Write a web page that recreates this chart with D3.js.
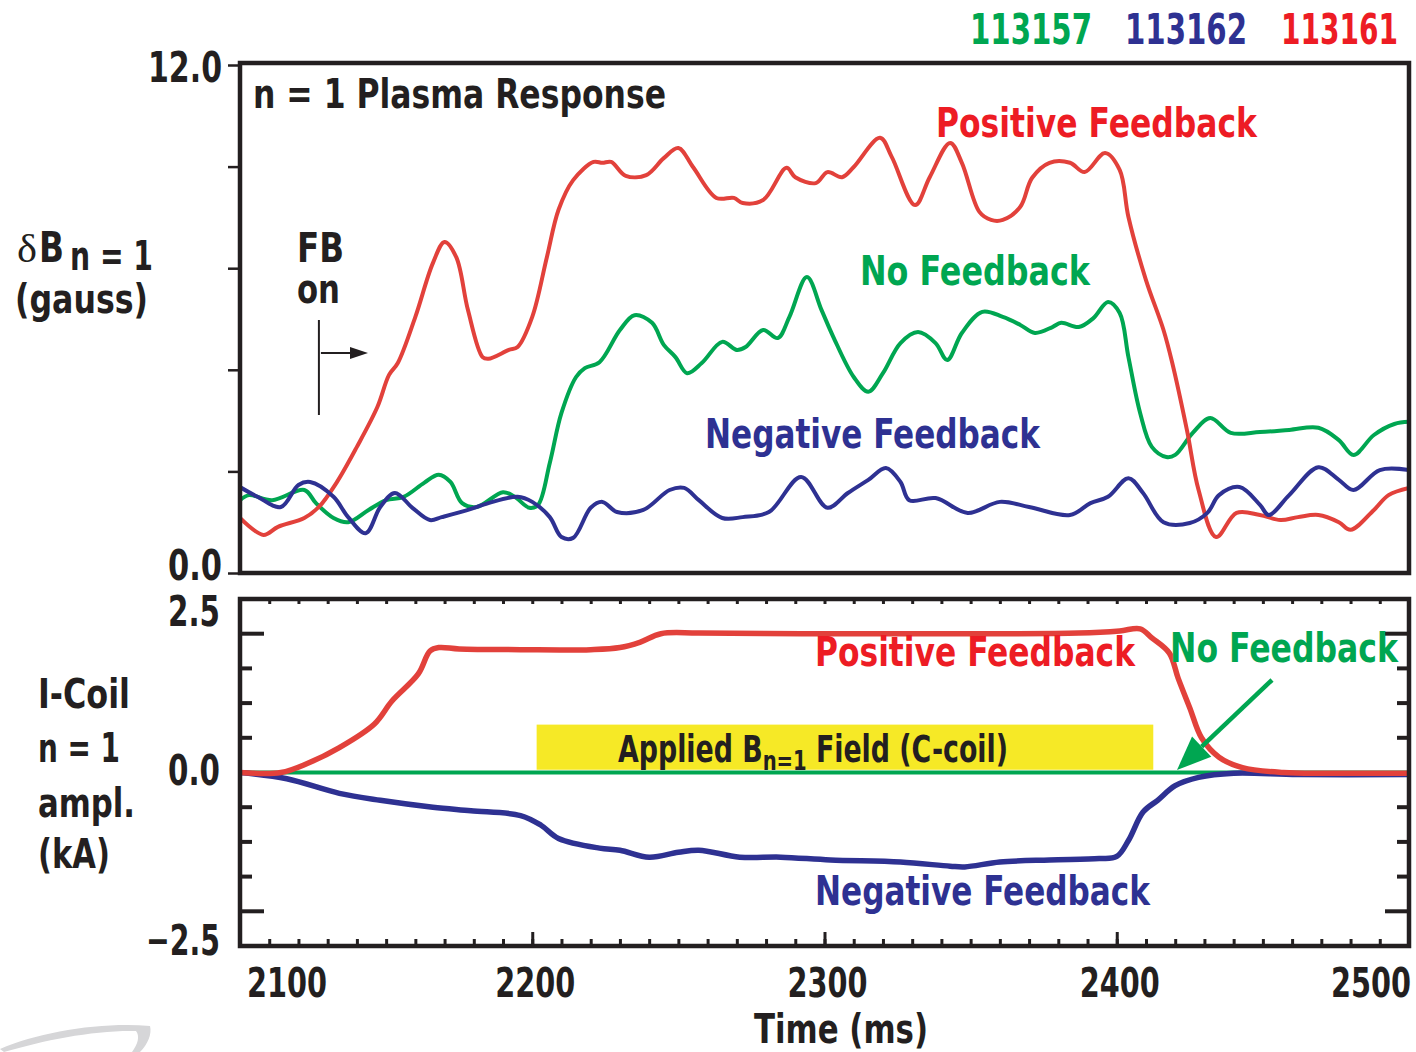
<!DOCTYPE html>
<html>
<head>
<meta charset="utf-8">
<script src="https://cdn.jsdelivr.net/npm/d3@7"></script>
<style>
  body { margin: 0; background: #fff; }
  svg text { font-family: "Liberation Sans Narrow", "Arial Narrow", "DejaVu Sans Condensed", sans-serif; font-weight: bold; }
</style>
</head>
<body>
<div id="chart"></div>
<script>
// size of the page
const width = 1416;
const height = 1052;

// colours used in the figure
const red = "#e2413b", redText = "#ed1c24";
const green = "#00a651";
const blue = "#2e3192";
const ink = "#231f20";

// shot numbers
const shots = ["113157", "113162", "113161"];

// delta B n=1 (gauss) vs time (ms), top panel
const posTop = [[2100,1.30],[2108,0.90],[2113,1.09],[2122,1.30],[2127,1.56],[2133,2.13],[2140,2.98],[2147,3.92],[2151,4.68],[2154,4.96],[2160,6.05],[2166,7.32],[2170,7.82],[2174,7.46],[2178,6.21],[2183,5.10],[2185,5.06],[2192,5.27],[2195,5.34],[2200,6.05],[2205,7.46],[2209,8.58],[2214,9.28],[2221,9.71],[2224,9.69],[2227,9.71],[2232,9.38],[2239,9.40],[2245,9.80],[2250,10.04],[2255,9.59],[2263,8.86],[2269,8.86],[2272,8.74],[2279,8.81],[2287,9.57],[2290,9.35],[2297,9.21],[2301,9.47],[2306,9.35],[2310,9.59],[2319,10.28],[2323,9.83],[2331,8.69],[2336,9.35],[2343,10.16],[2347,9.69],[2353,8.53],[2357,8.34],[2361,8.34],[2367,8.65],[2371,9.33],[2377,9.69],[2384,9.69],[2389,9.47],[2396,9.92],[2401,9.52],[2404,8.41],[2410,6.92],[2416,5.74],[2419,4.96],[2424,3.38],[2428,1.96],[2434,0.85],[2441,1.42],[2449,1.37],[2456,1.25],[2462,1.32],[2469,1.37],[2476,1.20],[2480,1.02],[2488,1.49],[2493,1.84],[2500,2.01]];
const noneTop = [[2100,1.72],[2103,1.84],[2111,1.72],[2122,1.96],[2126,1.65],[2132,1.30],[2137,1.20],[2144,1.49],[2150,1.72],[2156,1.80],[2163,2.13],[2168,2.32],[2172,2.15],[2176,1.65],[2181,1.56],[2190,1.91],[2194,1.80],[2199,1.54],[2202,1.61],[2206,2.60],[2210,3.78],[2215,4.63],[2218,4.84],[2223,4.98],[2230,5.74],[2235,6.09],[2241,5.91],[2245,5.39],[2249,5.10],[2253,4.72],[2258,4.96],[2265,5.46],[2270,5.27],[2273,5.34],[2279,5.74],[2284,5.55],[2288,6.05],[2294,6.99],[2299,6.21],[2303,5.58],[2310,4.63],[2315,4.28],[2320,4.72],[2326,5.43],[2332,5.69],[2338,5.43],[2342,5.03],[2347,5.67],[2354,6.17],[2361,6.05],[2367,5.86],[2372,5.67],[2378,5.81],[2381,5.91],[2387,5.81],[2392,6.02],[2397,6.40],[2401,6.14],[2404,5.10],[2408,3.78],[2412,2.98],[2417,2.74],[2420,2.79],[2426,3.31],[2432,3.66],[2439,3.31],[2449,3.33],[2459,3.38],[2469,3.43],[2476,3.14],[2481,2.79],[2488,3.26],[2495,3.52],[2500,3.57]];
const negTop = [[2100,2.03],[2106,1.80],[2114,1.56],[2120,2.08],[2124,2.15],[2132,1.80],[2137,1.32],[2143,0.94],[2148,1.56],[2153,1.89],[2159,1.54],[2165,1.25],[2169,1.32],[2178,1.49],[2185,1.65],[2195,1.80],[2200,1.68],[2206,1.32],[2210,0.85],[2214,0.83],[2220,1.54],[2224,1.68],[2229,1.44],[2238,1.49],[2247,1.96],[2252,2.01],[2257,1.72],[2265,1.30],[2272,1.32],[2281,1.44],[2292,2.27],[2301,1.54],[2308,1.89],[2315,2.20],[2321,2.48],[2326,2.15],[2329,1.72],[2338,1.77],[2349,1.42],[2360,1.68],[2370,1.56],[2384,1.37],[2391,1.65],[2397,1.80],[2404,2.24],[2409,1.89],[2416,1.20],[2425,1.18],[2431,1.42],[2435,1.84],[2442,2.03],[2449,1.61],[2452,1.37],[2459,1.84],[2469,2.50],[2476,2.20],[2481,1.96],[2490,2.43],[2500,2.43]];

// I-coil n=1 amplitude (kA) vs time (ms), bottom panel
const posBot = [[2100,0],[2114,0],[2123,0.13],[2134,0.36],[2146,0.70],[2152,1.03],[2161,1.42],[2165,1.75],[2168,1.80],[2175,1.78],[2196,1.77],[2220,1.77],[2230,1.80],[2237,1.88],[2244,2.00],[2257,2.01],[2292,2.00],[2326,2.00],[2360,2.00],[2387,2.01],[2401,2.04],[2408,2.07],[2412,1.94],[2418,1.72],[2421,1.36],[2425,0.93],[2429,0.50],[2435,0.22],[2443,0.07],[2457,0],[2474,-0.01],[2500,-0.01]];
const negBot = [[2100,0],[2116,-0.09],[2134,-0.30],[2148,-0.40],[2166,-0.50],[2179,-0.55],[2196,-0.62],[2203,-0.76],[2209,-0.95],[2223,-1.09],[2230,-1.12],[2240,-1.22],[2250,-1.15],[2257,-1.12],[2271,-1.22],[2285,-1.22],[2302,-1.26],[2326,-1.29],[2343,-1.35],[2348,-1.36],[2360,-1.29],[2377,-1.26],[2394,-1.24],[2400,-1.21],[2404,-0.98],[2409,-0.57],[2414,-0.40],[2420,-0.19],[2428,-0.07],[2440,-0.01],[2462,-0.03],[2500,-0.03]];
const noneBot = [[2100,0],[2500,0]];

// axis ticks
const topTicks = [0, 2.4, 4.8, 7.2, 9.6, 12];
const botTicks = [-2, -1.5, -1, -0.5, 0.5, 1, 1.5, 2];
const timeTicks = [2100, 2200, 2300, 2400, 2500];
const fieldWindow = [2201.5, 2412.5]; // applied C-coil field

const svg = d3.select("#chart").append("svg")
  .attr("width", width).attr("height", height);

// scales
const x = d3.scaleLinear().domain([2100, 2500]).range([240, 1409]);
const yTop = d3.scaleLinear().domain([0, 12]).range([573, 65]);
const yBot = d3.scaleLinear().domain([-2.5, 2.5]).range([946, 599]);

// little helper for text, optionally forced to a width
function label(txt, px, py, opts) {
  opts = opts || {};
  const t = svg.append("text")
    .attr("x", px).attr("y", py)
    .attr("font-size", opts.size || 42)
    .attr("fill", opts.fill || ink)
    .attr("text-anchor", opts.anchor || "start")
    .text(txt);
  if (opts.w) t.attr("textLength", opts.w).attr("lengthAdjust", "spacingAndGlyphs");
  return t;
}

// faint logo swoosh in the corner
svg.append("path")
  .attr("d", "M0,1049 C40,1032 100,1022 150,1026 C152,1034 148,1044 140,1052 L132,1052 C138,1044 140,1036 136,1031 C95,1030 45,1040 4,1052 Z")
  .attr("fill", "#d6d6d8");

/* clip paths */
const defs = svg.append("defs");
defs.append("clipPath").attr("id", "clipTop").append("rect")
  .attr("x", x(2100)).attr("y", yTop(12)).attr("width", x(2500) - x(2100)).attr("height", yTop(0) - yTop(12));
defs.append("clipPath").attr("id", "clipBot").append("rect")
  .attr("x", x(2100)).attr("y", yBot(2.5)).attr("width", x(2500) - x(2100)).attr("height", yBot(-2.5) - yBot(2.5));

/* top panel */
const lineTop = d3.line().x(d => x(d[0])).y(d => yTop(d[1])).curve(d3.curveCatmullRom.alpha(0.5));
const gTop = svg.append("g").attr("clip-path", "url(#clipTop)");
[[noneTop, green], [posTop, red], [negTop, blue]].forEach(([data, col]) => {
  gTop.append("path").datum(data)
    .attr("d", lineTop)
    .attr("fill", "none").attr("stroke", col)
    .attr("stroke-width", 4).attr("stroke-linejoin", "round");
});

svg.append("rect")
  .attr("x", x(2100)).attr("y", yTop(12) - 2)
  .attr("width", x(2500) - x(2100)).attr("height", yTop(0) - yTop(12) + 2)
  .attr("fill", "none").attr("stroke", ink).attr("stroke-width", 4.5);

// outside ticks on the left
svg.append("g")
  .attr("transform", `translate(${x(2100)},0)`)
  .call(d3.axisLeft(yTop).tickValues(topTicks).tickSize(12).tickFormat(""))
  .call(g => g.select(".domain").remove())
  .selectAll("line").attr("stroke", ink).attr("stroke-width", 2.5);

label("12.0", 222, 82, {anchor: "end", w: 74});
label("0.0", 222, 580, {anchor: "end", w: 54});

/* bottom panel */
const lineBot = d3.line().x(d => x(d[0])).y(d => yBot(d[1])).curve(d3.curveCatmullRom.alpha(0.5));

// applied field bar
svg.append("rect")
  .attr("x", x(fieldWindow[0])).attr("y", yBot(0.69))
  .attr("width", x(fieldWindow[1]) - x(fieldWindow[0]))
  .attr("height", yBot(0.04) - yBot(0.69))
  .attr("fill", "#f6e926");

const gBot = svg.append("g").attr("clip-path", "url(#clipBot)");
[[noneBot, green, 4], [negBot, blue, 5.5], [posBot, red, 5.5]].forEach(([data, col, w]) => {
  gBot.append("path").datum(data)
    .attr("d", lineBot)
    .attr("fill", "none").attr("stroke", col)
    .attr("stroke-width", w).attr("stroke-linejoin", "round");
});

svg.append("rect")
  .attr("x", x(2100)).attr("y", yBot(2.5))
  .attr("width", x(2500) - x(2100)).attr("height", yBot(-2.5) - yBot(2.5))
  .attr("fill", "none").attr("stroke", ink).attr("stroke-width", 4.5);

// inward ticks on both sides, long ones at +-2
botTicks.forEach(v => {
  const len = Math.abs(v) === 2 ? 24 : 12;
  svg.append("line")
    .attr("x1", x(2100)).attr("x2", x(2100) + len)
    .attr("y1", yBot(v)).attr("y2", yBot(v))
    .attr("stroke", ink).attr("stroke-width", 4);
  svg.append("line")
    .attr("x1", x(2500)).attr("x2", x(2500) - len)
    .attr("y1", yBot(v)).attr("y2", yBot(v))
    .attr("stroke", ink).attr("stroke-width", 4);
});

// time ticks, every 10 ms, pointing inward
const minorT = d3.range(2110, 2500, 10);
svg.append("g")
  .attr("transform", `translate(0,${yBot(-2.5)})`)
  .call(d3.axisBottom(x).tickValues(minorT).tickSize(-7).tickFormat(""))
  .call(g => g.select(".domain").remove())
  .selectAll("line").attr("stroke", ink).attr("stroke-width", 3);
svg.append("g")
  .attr("transform", `translate(0,${yBot(-2.5)})`)
  .call(d3.axisBottom(x).tickValues(timeTicks.slice(1, 4)).tickSize(-14).tickFormat(""))
  .call(g => g.select(".domain").remove())
  .selectAll("line").attr("stroke", ink).attr("stroke-width", 3);
svg.append("g")
  .attr("transform", `translate(0,${yBot(2.5)})`)
  .call(d3.axisTop(x).tickValues(minorT).tickSize(-5).tickFormat(""))
  .call(g => g.select(".domain").remove())
  .selectAll("line").attr("stroke", ink).attr("stroke-width", 3);

label("2.5", 220, 626, {anchor: "end", w: 52});
label("0.0", 220, 785, {anchor: "end", w: 52});
label("\u22122.5", 220, 955, {anchor: "end", w: 74});

// time labels
timeTicks.forEach((t, i) => {
  const anchor = i === 0 ? "start" : (i === timeTicks.length - 1 ? "end" : "middle");
  const px = i === 0 ? x(t) + 7 : (i === timeTicks.length - 1 ? x(t) + 2 : x(t) + 3);
  label(String(t), px, 997, {anchor: anchor, w: 80, size: 41});
});
label("Time (ms)", 841, 1043, {anchor: "middle", w: 174, size: 41});

/* annotations, top panel */
label("n = 1 Plasma Response", 253, 108, {w: 413, size: 41});
label("Positive Feedback", 936, 137, {fill: redText, w: 321, size: 41});
label("No Feedback", 860, 285, {fill: green, w: 230, size: 41});
label("Negative Feedback", 705, 448, {fill: blue, w: 335, size: 41});
label("FB", 297, 262, {w: 47, size: 41});
label("on", 297, 303, {w: 43, size: 41});

// FB on marker
svg.append("line").attr("x1", x(2127)).attr("x2", x(2127)).attr("y1", 320).attr("y2", 415)
  .attr("stroke", ink).attr("stroke-width", 2);
svg.append("line").attr("x1", x(2127) + 2).attr("x2", 353).attr("y1", 353).attr("y2", 353)
  .attr("stroke", ink).attr("stroke-width", 2);
svg.append("path").attr("d", "M368,353 L350,347 L350,359 Z").attr("fill", ink);

/* annotations, bottom panel */
label("Positive Feedback", 815, 666, {fill: redText, w: 320, size: 41});
label("No Feedback", 1170, 662, {fill: green, w: 228, size: 41});
label("Negative Feedback", 815, 905, {fill: blue, w: 335, size: 41});

const applied = svg.append("text")
  .attr("x", 618).attr("y", 762)
  .attr("font-size", 37).attr("fill", ink)
  .attr("textLength", 390).attr("lengthAdjust", "spacingAndGlyphs");
applied.append("tspan").text("Applied B");
applied.append("tspan").attr("font-size", 27).attr("dy", 8).text("n=1");
applied.append("tspan").attr("dy", -8).text(" Field (C-coil)");

// green arrow pointing at the zero line
const tip = [1177, 770], tail = [1272, 680];
const dx = tip[0] - tail[0], dy = tip[1] - tail[1];
const len = Math.hypot(dx, dy), ux = dx / len, uy = dy / len;
const headL = 34, headW = 14;
const bx = tip[0] - ux * headL, by = tip[1] - uy * headL;
svg.append("line").attr("x1", tail[0]).attr("y1", tail[1]).attr("x2", bx).attr("y2", by)
  .attr("stroke", green).attr("stroke-width", 4.5);
svg.append("path")
  .attr("d", `M${tip[0]},${tip[1]} L${bx - uy * headW},${by + ux * headW} L${bx + uy * headW},${by - ux * headW} Z`)
  .attr("fill", green);

/* shot numbers */
label(shots[0], 970, 44, {fill: green, w: 122, size: 42});
label(shots[1], 1125, 44, {fill: blue, w: 122, size: 42});
label(shots[2], 1281, 44, {fill: redText, w: 117, size: 42});

/* axis titles */
svg.append("text").attr("x", 17).attr("y", 262).attr("font-size", 40).attr("fill", ink)
  .attr("textLength", 20).attr("lengthAdjust", "spacingAndGlyphs")
  .style("font-family", "'Liberation Serif','DejaVu Serif',serif").style("font-weight", "normal")
  .text("\u03b4");
label("B", 39, 262, {w: 25, size: 42});
label("n = 1", 70, 270, {w: 83, size: 40});
label("(gauss)", 15, 313, {w: 133, size: 41});

label("I-Coil", 38, 708, {w: 92, size: 41});
label("n = 1", 38, 762, {w: 82, size: 41});
label("ampl.", 38, 817, {w: 97, size: 41});
label("(kA)", 38, 868, {w: 72, size: 41});
</script>
</body>
</html>
